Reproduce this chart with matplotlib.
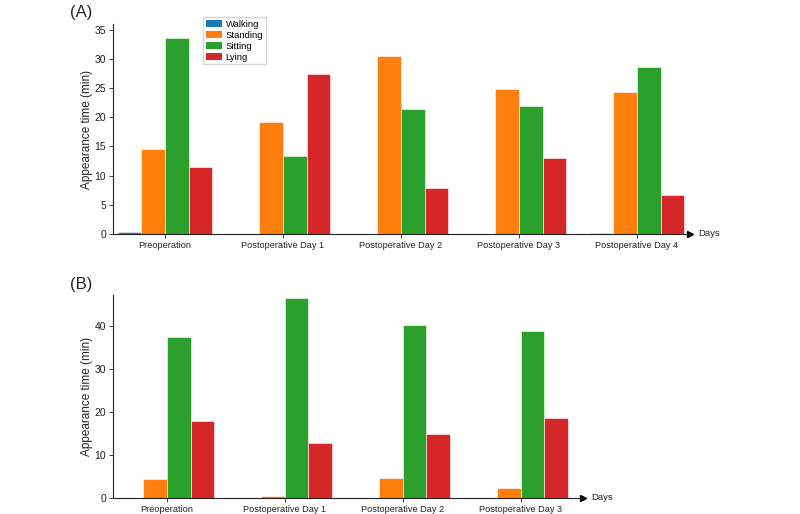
import numpy as np
import matplotlib
matplotlib.use("Agg")
import matplotlib.pyplot as plt
from matplotlib.patches import Patch

plt.rcParams["font.family"] = ["Liberation Sans", "DejaVu Sans"]

ACTIVITIES = ["Walking", "Standing", "Sitting", "Lying"]
COLORS = ["#1f77b4", "#ff7f0e", "#2ca02c", "#d62728"]

DAYS_A = ["Preoperation", "Postoperative Day 1", "Postoperative Day 2",
          "Postoperative Day 3", "Postoperative Day 4"]
WALK_A = [0.3, 0.0, 0.0, 0.0, 0.2]
STAND_A = [14.5, 19.2, 30.6, 24.9, 24.4]
SIT_A = [33.6, 13.3, 21.5, 22.0, 28.6]
LIE_A = [11.5, 27.5, 7.9, 13.0, 6.7]

DAYS_B = ["Preoperation", "Postoperative Day 1", "Postoperative Day 2",
          "Postoperative Day 3"]
WALK_B = [0.0, 0.0, 0.1, 0.0]
STAND_B = [4.4, 0.5, 4.6, 2.3]
SIT_B = [37.6, 46.7, 40.3, 38.9]
LIE_B = [17.9, 12.7, 14.9, 18.6]

INK = "#222222"
W = 0.2


def panel(ax, days, series, xlim, ylim, yticks):
    x = np.arange(len(days))
    for i, (vals, c) in enumerate(zip(series, COLORS)):
        ax.bar(x + (i - 1.5) * W, vals, W, color=c, edgecolor="white",
               linewidth=0.4, zorder=2)
    ax.set_xlim(*xlim)
    ax.set_ylim(*ylim)
    ax.set_xticks(x)
    ax.set_xticklabels(days, fontsize=6.6, color=INK)
    ax.set_yticks(yticks)
    ax.tick_params(axis="y", labelsize=7.5, colors=INK, length=3, width=0.6, pad=2)
    ax.tick_params(axis="x", length=3, width=0.6, color=INK, pad=2)
    for s in ("top", "right"):
        ax.spines[s].set_visible(False)
    for s in ("left", "bottom"):
        ax.spines[s].set_linewidth(0.8)
        ax.spines[s].set_color(INK)
    ax.set_ylabel("Appearance time (min)", fontsize=8.5, color=INK, labelpad=1)
    ax.plot(1, 0, ">", color="black", markersize=4,
            transform=ax.get_yaxis_transform(), clip_on=False)
    ax.annotate("Days", xy=(1, 0), xycoords=ax.get_yaxis_transform(),
                xytext=(6, 0), textcoords="offset points",
                ha="left", va="center", fontsize=6.8, color=INK)


fig = plt.figure(figsize=(8.0, 5.14), dpi=100)
axA = fig.add_axes([113 / 800, 1 - 234 / 514, 577 / 800, 210 / 514])
axB = fig.add_axes([113 / 800, 1 - 498 / 514, 470 / 800, 203 / 514])

panel(axA, DAYS_A, [WALK_A, STAND_A, SIT_A, LIE_A], (-0.44, 4.45), (0, 36),
      range(0, 36, 5))
panel(axB, DAYS_B, [WALK_B, STAND_B, SIT_B, LIE_B], (-0.458, 3.53), (0, 47.3),
      range(0, 41, 10))

handles = [Patch(facecolor=c, label=a) for a, c in zip(ACTIVITIES, COLORS)]
fig.legend(handles=handles, loc="upper left", bbox_to_anchor=(203 / 800, 1 - 17 / 514),
           fontsize=6.8, frameon=True, fancybox=False, edgecolor="#cccccc",
           handlelength=1.7, handleheight=0.7, labelspacing=0.2,
           borderpad=0.3, handletextpad=0.4, borderaxespad=0)

fig.text(70 / 800, 1 - 12 / 514, "(A)", fontsize=12, color=INK, va="center")
fig.text(70 / 800, 1 - 285 / 514, "(B)", fontsize=12, color=INK, va="center")

fig.savefig("out.png", dpi=100, facecolor="white")
